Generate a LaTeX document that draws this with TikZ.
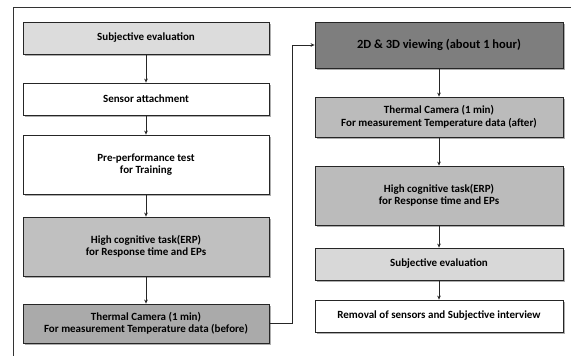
\documentclass[tikz,border=0pt]{standalone}
\usepackage{fontspec}
\setmainfont{Carlito}
\usetikzlibrary{shadows,arrows.meta}
\definecolor{cA}{HTML}{DCDCDC}
\definecolor{cB}{HTML}{C0C0C0}
\definecolor{cC}{HTML}{AAAAAA}
\definecolor{cD}{HTML}{7E7E7E}
\definecolor{cE}{HTML}{BBBBBB}
\definecolor{cF}{HTML}{D8D8D8}
\begin{document}
\begin{tikzpicture}[x=1pt,y=-1pt,
  box/.style={draw=black!85,line width=0.8pt,align=center,inner sep=0pt,
    font=\fontsize{11}{12.5}\selectfont\bfseries,
    drop shadow={shadow xshift=1.5pt,shadow yshift=-1.8pt,opacity=0.45,fill=black!70}},
  lbox/.style={box,minimum width=246pt},
  rbox/.style={box,minimum width=248pt},
  conn/.style={line width=0.8pt,draw=black!85,-{Stealth[length=4pt,width=3.6pt]}}]
\useasboundingbox (0,0) rectangle (571,356);
\fill[white] (0,0) rectangle (571,356);
\draw[line width=0.9pt,black!80] (13,356) -- (13,7) -- (571,7);
% left column
\node[lbox,fill=cA,minimum height=32pt] (l1) at (146,38) {Subjective evaluation};
\node[lbox,fill=white,minimum height=32pt] (l2) at (146,99) {Sensor attachment};
\node[lbox,fill=white,minimum height=59pt] (l3) at (146,164.5) {Pre-performance test\\for Training};
\node[lbox,fill=cB,minimum height=59pt] (l4) at (146,246.5) {High cognitive task(ERP)\\for Response time and EPs};
\node[lbox,fill=cC,minimum height=39pt] (l5) at (146,323.5) {Thermal Camera (1 min)\\For measurement Temperature data (before)};
% right column
\node[rbox,fill=cD,minimum height=46pt,font=\fontsize{12.5}{14}\selectfont\bfseries] (r1) at (439,45) {2D \& 3D viewing (about 1 hour)};
\node[rbox,fill=cE,minimum height=40pt] (r2) at (439,117) {Thermal Camera (1 min)\\For measurement Temperature data (after)};
\node[rbox,fill=cE,minimum height=59pt] (r3) at (439,195.5) {High cognitive task(ERP)\\for Response time and EPs};
\node[rbox,fill=cF,minimum height=32pt] (r4) at (439,264) {Subjective evaluation};
\node[rbox,fill=white,minimum height=32pt] (r5) at (439,316) {Removal of sensors and Subjective interview};
\coordinate (bend) at (292,0);
% connectors
\draw[conn] (l1) -- (l2);
\draw[conn] (l2) -- (l3);
\draw[conn] (l3) -- (l4);
\draw[conn] (l4) -- (l5);
\draw[conn] (l5.east) -| (bend |- r1.west) -- (r1.west);
\draw[conn] (r1) -- (r2);
\draw[conn] (r2) -- (r3);
\draw[conn] (r3) -- (r4);
\draw[conn] (r4) -- (r5);
\end{tikzpicture}
\end{document}
